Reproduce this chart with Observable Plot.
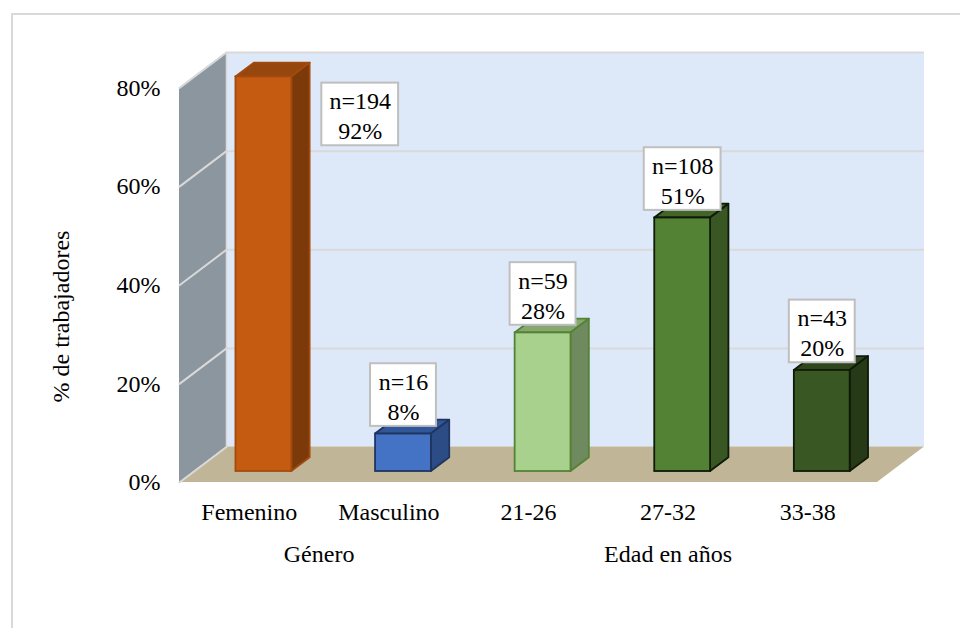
<!DOCTYPE html>
<html lang="es">
<head>
<meta charset="utf-8">
<script src="https://cdn.jsdelivr.net/npm/d3@7"></script>
<script src="https://cdn.jsdelivr.net/npm/@observablehq/plot@0.6"></script>
<style>
  html, body { margin: 0; padding: 0; background: #fff; }
  #frame { position: absolute; left: 11px; top: 13px; right: 0; bottom: 0; border-top: 2px solid #d9d9d9; border-left: 2px solid #d9d9d9; }
  #chart { position: absolute; left: 0; top: 0; }
</style>
</head>
<body>
<div id="frame"></div>
<div id="chart"></div>
<script>
// Data
const categories = ["Femenino", "Masculino", "21-26", "27-32", "33-38"];
const counts = [194, 16, 59, 108, 43];
const percents = [92, 8, 28, 51, 20];
const barHeights = [92.4, 7.6, 28.1, 51.4, 20.5];
const frontFills = ["#c55a11", "#4472c4", "#a9d18e", "#548235", "#385723"];
const sideFills = ["#7c3a0b", "#2c4c86", "#6f8a5e", "#385723", "#263a18"];
const topFills = ["#95470d", "#31569a", "#86a870", "#42652a", "#2d461c"];
const edgeColors = ["#a34b0e", "#1f3560", "#548235", "#0f1a08", "#0f1a08"];
const groups = ["Género", "Edad en años"];
const groupCenters = [0.5, 3];
const yTicks = [0, 20, 40, 60, 80];

// Oblique-projection settings, expressed in scale units
const yMax = 80;
const depthX = 0.3367, depthY = 7.19;
const barFront = 0.31, barBack = 0.70, barHalf = 0.2;
const px = (d) => d * depthX, py = (d) => d * depthY;
const xStart = -0.5, xEnd = 4.5;

const bars = categories.map((c, i) => ({
  i, c, n: counts[i], pct: percents[i], h: Math.min(barHeights[i], yMax),
  front: frontFills[i], side: sideFills[i], top: topFills[i], edge: edgeColors[i]
}));

const sideRows = bars.flatMap((b) => [barFront, barBack].map((d) => ({
  id: b.i, x: b.i + barHalf + px(d), y1: py(d), y2: b.h + py(d), fill: b.side, edge: b.edge
})));
const topRows = bars.flatMap((b) => [barFront, barBack].map((d) => ({
  id: b.i, y: b.h + py(d), x1: b.i - barHalf + px(d), x2: b.i + barHalf + px(d), fill: b.top, edge: b.edge
})));
const frontRows = bars.map((b) => ({
  x1: b.i - barHalf + px(barFront), x2: b.i + barHalf + px(barFront),
  y1: py(barFront), y2: b.h + py(barFront), fill: b.front, edge: b.edge
}));
const sideGrid = yTicks.flatMap((t) => [0, 1].map((d) => ({ t, x: xStart + px(d), y: t + py(d) })));

// Labels: a bar clipped by the axis has its label moved beside it
const labelRows = bars.map((b) => {
  const clipped = b.pct > yMax;
  const cx = b.i + px(barFront) + (clipped ? 0.69 : 0);
  const cy = b.h + py(barFront) + (clipped ? -7.6 : 7.9);
  const w = b.n >= 100 ? 0.275 : 0.236;
  return { cx, cy, x1: cx - w, x2: cx + w, y1: cy - 6.35, y2: cy + 6.35, text: `n=${b.n}\n${b.pct}%` };
});

const font = "'Liberation Serif', 'Times New Roman', serif";
const fs = 24;

const plot = Plot.plot({
  width: 960, height: 628,
  marginLeft: 179, marginRight: 36, marginTop: 52, marginBottom: 146,
  x: { type: "linear", domain: [xStart, xEnd + depthX], axis: null },
  y: { type: "linear", domain: [0, yMax + depthY], axis: null },
  color: { type: "identity" },
  style: { fontFamily: font, fontSize: fs + "px", color: "#000", background: "transparent" },
  marks: [
    // back wall, left wall, floor
    Plot.rect([0], { x1: xStart + depthX, x2: xEnd + depthX, y1: depthY, y2: yMax + depthY, fill: "#dde8f8" }),
    Plot.areaY([xStart, xStart + depthX], { x: (d) => d, y1: (d, i) => i * depthY, y2: (d, i) => yMax + i * depthY, fill: "#8c969e" }),
    Plot.areaX([0, depthY], { y: (d) => d, x1: (d, i) => xStart + px(i), x2: (d, i) => xEnd + px(i), fill: "#c0b597" }),
    // gridlines on both walls
    Plot.ruleY(yTicks.slice(1), { y: (d) => d + depthY, x1: xStart + depthX, x2: xEnd + depthX, stroke: "#d9d9d9", strokeWidth: 2 }),
    Plot.line(sideGrid, { x: "x", y: "y", z: "t", stroke: "#d9d9d9", strokeWidth: 2 }),
    Plot.ruleX([xStart + depthX], { y1: depthY, y2: yMax + depthY, stroke: "#d9d9d9", strokeWidth: 1.5 }),
    // bars
    Plot.areaX(topRows, { y: "y", x1: "x1", x2: "x2", z: "id", fill: "fill", stroke: "edge", strokeWidth: 1.8, strokeLinejoin: "round" }),
    Plot.areaY(sideRows, { x: "x", y1: "y1", y2: "y2", z: "id", fill: "fill", stroke: "edge", strokeWidth: 1.8, strokeLinejoin: "round" }),
    Plot.rect(frontRows, { x1: "x1", x2: "x2", y1: "y1", y2: "y2", fill: "fill", stroke: "edge", strokeWidth: 1.8 }),
    // labels
    Plot.rect(labelRows, { x1: "x1", x2: "x2", y1: "y1", y2: "y2", fill: "#fff", stroke: "#bfbfbf", strokeWidth: 2 }),
    Plot.text(labelRows, { x: "cx", y: "cy", text: "text", fontSize: fs, lineHeight: 1.25, fill: "#000" }),
    // axes
    Plot.axisY({ ticks: yTicks, tickSize: 0, tickPadding: 19, tickFormat: (d) => d + "%", label: null, fontSize: fs, fontVariant: "normal" }),
    Plot.axisX({ ticks: categories.map((c, i) => i), tickSize: 0, tickPadding: 20, tickFormat: (d) => categories[d], label: null, fontSize: fs, fontVariant: "normal" }),
    Plot.text(groups, { x: (d, i) => groupCenters[i], frameAnchor: "bottom", dy: 79, text: (d) => d, fontSize: fs, fill: "#000" }),
    Plot.text(["% de trabajadores"], { frameAnchor: "left", dx: -118, dy: 135, rotate: -90, text: (d) => d, fontSize: fs, fill: "#000" })
  ]
});
document.getElementById("chart").append(plot);
</script>
</body>
</html>
